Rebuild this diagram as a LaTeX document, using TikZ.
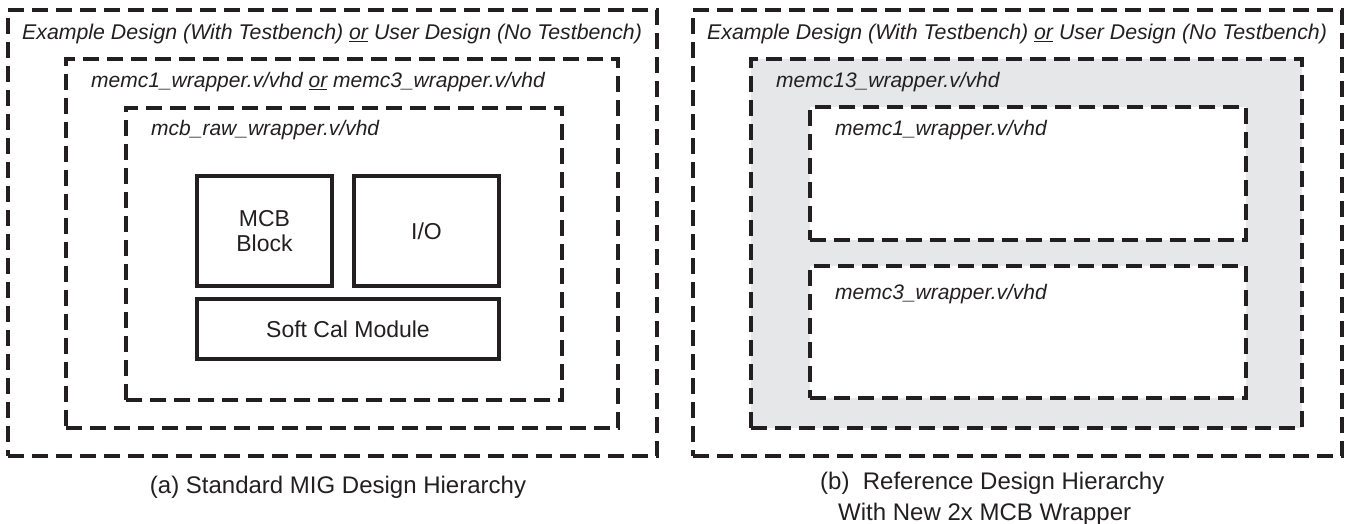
\documentclass[tikz,border=0pt]{standalone}
\usepackage{fontspec}
\setmainfont{Liberation Sans}
\definecolor{ink}{HTML}{231F20}
\definecolor{shade}{HTML}{E6E7E8}
\begin{document}
\begin{tikzpicture}[x=1pt,y=-1pt,
  dashbox/.style={draw=ink, line width=3.1pt, dash pattern=on 16pt off 8pt,
    inner sep=0pt, outer sep=0pt, anchor=north west},
  solidbox/.style={draw=ink, line width=3.2pt, inner sep=0pt, outer sep=0pt,
    anchor=north west},
  lbl/.style={anchor=base west, inner sep=0pt, text=ink,
    font=\fontsize{21}{25}\selectfont\itshape},
  toplbl/.style={lbl, font=\fontsize{21.3}{25}\selectfont\itshape},
  blk/.style={text=ink, align=center, inner sep=0pt,
    font=\fontsize{23}{25}\selectfont},
  captext/.style={text=ink, inner sep=0pt, font=\fontsize{24}{28}\selectfont}]
\useasboundingbox (0,0) rectangle (1350,524);

% ---- (a) standard hierarchy ----
\node[dashbox, minimum width=649pt, minimum height=446pt] (exA) at (8,10) {};
\node[dashbox, minimum width=552pt, minimum height=369pt] (wrapA) at (66,59) {};
\node[dashbox, minimum width=436pt, minimum height=292pt] (rawA) at (126,108) {};
\node[solidbox, minimum width=135pt, minimum height=110pt] (mcb) at (197,176) {};
\node[solidbox, minimum width=145pt, minimum height=110pt] (io) at (354,176) {};
\node[solidbox, minimum width=302pt, minimum height=60pt] (cal) at (197,299) {};

\node[toplbl] (exAlbl) at (22,40) {Example Design (With Testbench) \underline{or} User Design (No Testbench)};
\node[lbl] (wrapAlbl) at (91,88) {memc1\_wrapper.v/vhd \underline{or} memc3\_wrapper.v/vhd};
\node[lbl] (rawAlbl) at (151,136) {mcb\_raw\_wrapper.v/vhd};
\node[blk] (mcbtxt) at (mcb.center) {MCB\\Block};
\node[blk] (iotxt) at (io.center) {I/O};
\node[blk] (caltxt) at (cal.center) {Soft Cal Module};

\node[captext, anchor=base] (capA) at (338,493) {(a) Standard MIG Design Hierarchy};

% ---- (b) reference hierarchy with 2x wrapper ----
\node[dashbox, minimum width=649pt, minimum height=446pt] (exB) at (693,10) {};
\node[dashbox, fill=shade, minimum width=551pt, minimum height=369pt] (wrapB) at (751,59) {};
\node[dashbox, fill=white, minimum width=436pt, minimum height=133pt] (m1B) at (810,107) {};
\node[dashbox, fill=white, minimum width=436pt, minimum height=132pt] (m3B) at (810,266) {};

\node[toplbl] (exBlbl) at (707,40) {Example Design (With Testbench) \underline{or} User Design (No Testbench)};
\node[lbl] (wrapBlbl) at (776,88) {memc13\_wrapper.v/vhd};
\node[lbl] (m1Blbl) at (835,136) {memc1\_wrapper.v/vhd};
\node[lbl] (m3Blbl) at (835,299) {memc3\_wrapper.v/vhd};

\node[captext, anchor=base west] (capB1) at (820,489) {(b)\ \ Reference Design Hierarchy};
\node[captext, anchor=base west] (capB2) at (838,520) {With New 2x MCB Wrapper};
\end{tikzpicture}
\end{document}
